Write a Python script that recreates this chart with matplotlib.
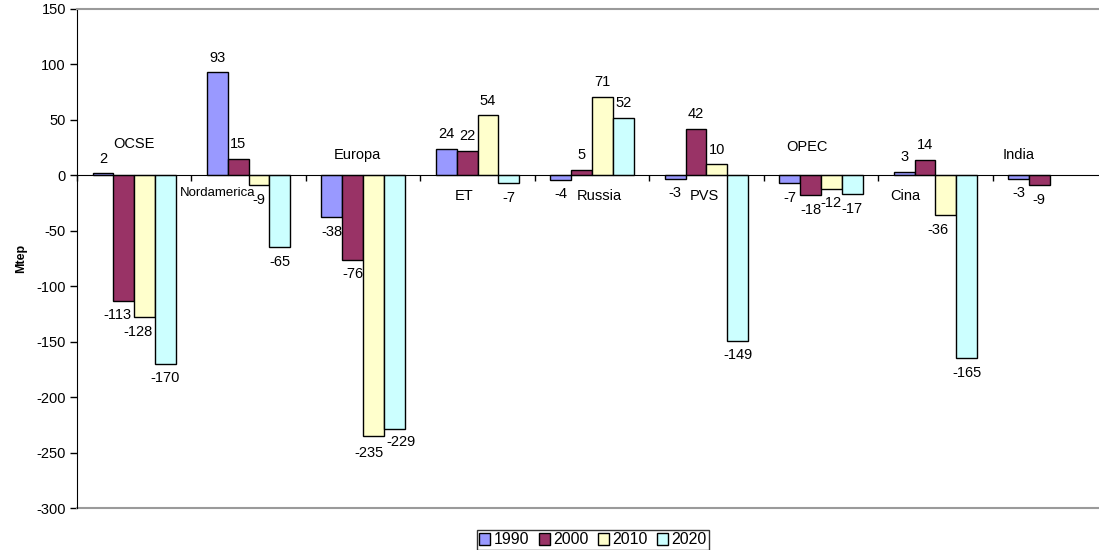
import matplotlib
matplotlib.use("Agg")
import matplotlib.pyplot as plt
import numpy as np

plt.rcParams['font.family'] = ['Liberation Sans', 'DejaVu Sans']
plt.rcParams['axes.unicode_minus'] = False

categories = ["OCSE", "Nordamerica", "Europa", "ET", "Russia", "PVS", "OPEC", "Cina", "India"]
years = ["1990", "2000", "2010", "2020"]
v1990 = [2, 93, -38, 24, -4, -3, -7, 3, -3]
v2000 = [-113, 15, -76, 22, 5, 42, -18, 14, -9]
v2010 = [-128, -9, -235, 54, 71, 10, -12, -36, None]
v2020 = [-170, -65, -229, -7, 52, -149, -17, -165, None]
series = [v1990, v2000, v2010, v2020]
colors = ["#9999FF", "#993366", "#FFFFCC", "#CCFFFF"]

# category name placement (offset from group centre, value on the y axis)
cat_dx = [0.0, -0.27, -0.05, -0.12, 0.06, -0.02, -0.12, -0.26, -0.27]
cat_y = [28, -16, 18, -19, -19, -19, 26, -19, 18]

# horizontal / vertical nudges (pixels, +y = downwards) for crowded value labels
nudge = {
    (0, 1): (-6, 0), (0, 2): (-7, 0),
    (2, 2): (-5, 2), (2, 3): (7, -2),
    (7, 2): (-8, 0),
}

W, H = 1099, 550
fig = plt.figure(figsize=(W / 100, H / 100), dpi=100)
ax = fig.add_axes([77 / W, (H - 508) / H, (1107 - 77) / W, (508 - 9) / H])

n = len(categories)
bw = 1 / 5.5
px = 0.72  # points per pixel at 100 dpi
for k, (vals, col) in enumerate(zip(series, colors)):
    idx = [i for i in range(n) if vals[i] is not None]
    xs = [i + 0.5 + (k - 1.5) * bw for i in idx]
    ys = [vals[i] for i in idx]
    ax.bar(xs, ys, width=bw, color=col, edgecolor="black", linewidth=1.0,
           label=years[k], zorder=3)
    for i, x, y in zip(idx, xs, ys):
        dx, dy = nudge.get((i, k), (0, 0))
        off = 10.5 if y >= 0 else -10.5
        ax.annotate(str(y), (x, y), xytext=(dx * px, off - dy * px),
                    textcoords="offset points", ha="center", va="center",
                    fontsize=10.5, zorder=5)

for i, name in enumerate(categories):
    ax.text(i + 0.5 + cat_dx[i], cat_y[i], name, ha="center", va="center",
            fontsize=10.5 if name != "Nordamerica" else 9.5, zorder=5)

ax.set_xlim(0, n)
ax.set_ylim(-300, 150)
ax.set_yticks(np.arange(-300, 151, 50))
ax.tick_params(axis="y", direction="out", length=5, width=1, labelsize=10.5, pad=3)
ax.set_ylabel("Mtep", fontsize=9, fontweight="bold", labelpad=7)

ax.spines["bottom"].set_position(("data", 0))
ax.spines["bottom"].set_color("black")
ax.spines["bottom"].set_zorder(4)
ax.set_xticks(np.arange(0, n + 1))
ax.set_xticklabels([])
ax.tick_params(axis="x", direction="out", length=4, width=1)
ax.spines["left"].set_color("black")
ax.spines["top"].set_color("#9a9a9a")
ax.spines["top"].set_linewidth(1.5)
ax.spines["right"].set_visible(False)
ax.plot([0, 1], [0, 0], transform=ax.transAxes, color="#9a9a9a", lw=1.5,
        clip_on=False, zorder=2)

leg = fig.legend(loc="center", bbox_to_anchor=(593 / W, (H - 540) / H), ncol=4,
                 fontsize=11.5, frameon=True, fancybox=False, edgecolor="black",
                 handlelength=0.7, handleheight=0.7, handletextpad=0.2,
                 columnspacing=0.6, borderpad=0.15, borderaxespad=0)
leg.get_frame().set_linewidth(1.0)

fig.savefig("out.png", dpi=100)
